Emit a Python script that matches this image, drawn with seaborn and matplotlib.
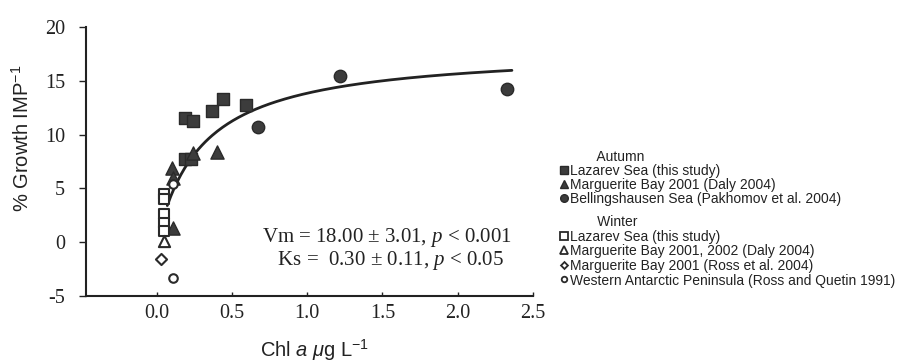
import numpy as np
import pandas as pd
import matplotlib
matplotlib.use("Agg")
import matplotlib.pyplot as plt
from matplotlib.lines import Line2D
import seaborn as sns

# ---- data ----
aut_laz_x = [0.19, 0.24, 0.37, 0.44, 0.59, 0.19, 0.23]
aut_laz_y = [11.5, 11.3, 12.2, 13.3, 12.75, 7.75, 7.75]
aut_mb_x = [0.24, 0.40, 0.10, 0.11, 0.11]
aut_mb_y = [8.3, 8.4, 6.9, 6.0, 1.35]
aut_bel_x = [0.67, 1.22, 2.33]
aut_bel_y = [10.7, 15.4, 14.2]
win_laz_x = [0.05, 0.05, 0.047, 0.047, 0.047]
win_laz_y = [4.5, 4.0, 2.6, 1.8, 1.0]
win_mb_x = [0.047]
win_mb_y = [0.1]
win_ross_x = [0.03]
win_ross_y = [-1.6]
win_wap_x = [0.11, 0.11]
win_wap_y = [5.4, -3.3]

Vm, Ks = 18.00, 0.30
curve_x_start, curve_x_end = 0.07, 2.36

season_titles = ["Autumn", "Winter"]
autumn_labels = [
    "Lazarev Sea (this study)",
    "Marguerite Bay 2001 (Daly 2004)",
    "Bellingshausen Sea (Pakhomov et al. 2004)",
]
winter_labels = [
    "Lazarev Sea (this study)",
    "Marguerite Bay 2001, 2002 (Daly 2004)",
    "Marguerite Bay 2001 (Ross et al. 2004)",
    "Western Antarctic Peninsula (Ross and Quetin 1991)",
]

sns.set_style("ticks")
plt.rcParams["font.family"] = ["Liberation Serif", "DejaVu Serif"]
plt.rcParams["mathtext.fontset"] = "custom"
plt.rcParams["mathtext.rm"] = "Liberation Serif"
plt.rcParams["mathtext.it"] = "Liberation Serif:italic"
plt.rcParams["mathtext.sf"] = "Liberation Sans"
plt.rcParams["mathtext.cal"] = "Liberation Sans:italic"

W, H = 899, 363
fig = plt.figure(figsize=(W / 100, H / 100), dpi=100)
ax = fig.add_axes([86 / W, 1 - 296 / H, (533 - 86) / W, (296 - 27) / H])

fill_c = "#3c3c3c"
edge_c = "#2a2a2a"

def sc(x, y, marker, filled, size):
    df = pd.DataFrame({"x": x, "y": y})
    sns.scatterplot(data=df, x="x", y="y", ax=ax, marker=marker, s=size,
                    color=fill_c if filled else "white",
                    edgecolor=edge_c, linewidth=1.0 if filled else 1.5,
                    zorder=3, legend=False)

sc(aut_laz_x, aut_laz_y, "s", True, 85)
sc(aut_mb_x, aut_mb_y, "^", True, 90)
sc(aut_bel_x, aut_bel_y, "o", True, 80)
sc(win_laz_x, win_laz_y, "s", False, 60)
sc(win_mb_x, win_mb_y, "^", False, 65)
sc(win_ross_x, win_ross_y, "D", False, 32)
sc(win_wap_x, win_wap_y, "o", False, 38)

cx = np.linspace(curve_x_start, curve_x_end, 200)
cdf = pd.DataFrame({"x": cx, "y": Vm * cx / (Ks + cx)})
sns.lineplot(data=cdf, x="x", y="y", ax=ax, color="#222222", linewidth=2.0, zorder=2)

ax.set_xlim(-0.47, 2.5)
ax.set_ylim(-5, 20)
ax.set_xticks([0.0, 0.5, 1.0, 1.5, 2.0, 2.5])
ax.set_xticklabels(["0.0", "0.5", "1.0", "1.5", "2.0", "2.5"])
ax.set_yticks([-5, 0, 5, 10, 15, 20])
ax.set_yticklabels(["-5", "0", "5", "10", "15", "20"])
ax.tick_params(axis="x", direction="in", length=3, width=1, labelsize=14.5, pad=6, colors="#222222")
ax.tick_params(axis="y", direction="out", length=5, width=1, labelsize=14.5, pad=10, colors="#222222")
for s in ["top", "right"]:
    ax.spines[s].set_visible(False)
for s in ["left", "bottom"]:
    ax.spines[s].set_linewidth(1.5)
    ax.spines[s].set_color("#222222")
ax.set_xlabel("")
ax.set_ylabel("")

sans = ["Liberation Sans", "DejaVu Sans"]
fig.text(22 / W, 1 - 138 / H, r"% Growth IMP$^{\mathsf{-1}}$", rotation=90, ha="center", va="center",
         fontsize=14.5, family=sans, color="#222222")
fig.text(315 / W, 1 - 350 / H, r"Chl $\mathcal{a}$ $\mathcal{\mu}$g L$^{\mathsf{-1}}$", ha="center", va="center",
         fontsize=14.5, family=sans, color="#222222")

fig.text(262 / W, 1 - 249 / H,
         "Vm = 18.00 $\\pm$ 3.01, $\\mathit{p}$ < 0.001\n   Ks =  0.30 $\\pm$ 0.11, $\\mathit{p}$ < 0.05",
         ha="left", va="center", fontsize=15, linespacing=0.95, color="#222222")

# legend (manual): one text block per season, markers at line centres
groups = [
    (season_titles[0], autumn_labels, [("s", True), ("^", True), ("o", True)], 150, 1.0),
    (season_titles[1], winter_labels, [("s", False), ("^", False), ("D", False), ("o", False)], 215, 1.06),
]
fig.canvas.draw()
renderer = fig.canvas.get_renderer()
for title, labels, marks, top_px, lsp in groups:
    txt = "       " + title + "\n" + "\n".join(labels)
    t = fig.text(570 / W, 1 - top_px / H, txt, ha="left", va="top", fontsize=10,
                 linespacing=lsp, family=sans, color="#222222")
    bb = t.get_window_extent(renderer=renderer)
    n = len(labels) + 1
    lh = bb.height / n
    for i, (m, filled) in enumerate(marks):
        yc = bb.y1 - (i + 1.5) * lh + 1
        ms = {"s": 5.5, "^": 5.5, "o": 5.5, "D": 3.5}[m]
        if not filled and m == "o":
            ms = 4
        fig.add_artist(Line2D([564 / W], [yc / fig.bbox.height], marker=m, markersize=ms,
                              markerfacecolor=fill_c if filled else "white",
                              markeredgecolor=edge_c, markeredgewidth=1.0 if filled else 1.3,
                              linestyle="none", transform=fig.transFigure))

fig.savefig("out.png", dpi=100, facecolor="white")
